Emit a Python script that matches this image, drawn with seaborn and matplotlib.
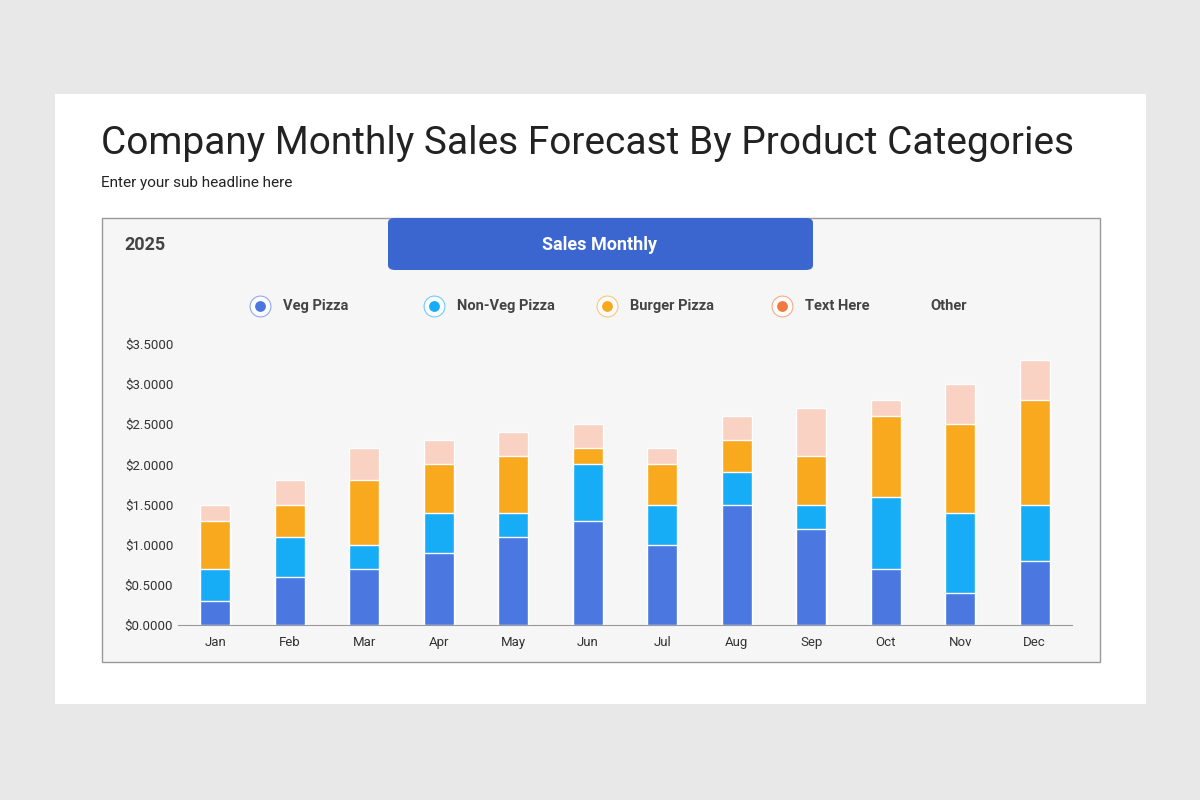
import numpy as np
import pandas as pd
import matplotlib
matplotlib.use("Agg")
import matplotlib.pyplot as plt
from matplotlib.patches import Rectangle, FancyBboxPatch
import seaborn as sns

months = ["Jan", "Feb", "Mar", "Apr", "May", "Jun", "Jul", "Aug", "Sep", "Oct", "Nov", "Dec"]
veg = [0.3, 0.6, 0.7, 0.9, 1.1, 1.3, 1.0, 1.5, 1.2, 0.7, 0.4, 0.8]
non_veg = [0.4, 0.5, 0.3, 0.5, 0.3, 0.7, 0.5, 0.4, 0.3, 0.9, 1.0, 0.7]
burger = [0.6, 0.4, 0.8, 0.6, 0.7, 0.2, 0.5, 0.4, 0.6, 1.0, 1.1, 1.3]
other = [0.2, 0.3, 0.4, 0.3, 0.3, 0.3, 0.2, 0.3, 0.6, 0.2, 0.5, 0.5]
yticks = [0, 0.5, 1.0, 1.5, 2.0, 2.5, 3.0, 3.5]

series = [("Veg Pizza", veg, "#4a77e0"), ("Non-Veg Pizza", non_veg, "#17acf6"),
          ("Burger Pizza", burger, "#f9a91e"), ("Other", other, "#f9d2c3")]

sns.set_style("white")
plt.rcParams["font.family"] = ["Roboto", "DejaVu Sans"]

fig = plt.figure(figsize=(12, 8), dpi=100)
fig.patch.set_facecolor("#e9e8e9")
fig.add_artist(Rectangle((55 / 1200, 1 - 704 / 800), 1091 / 1200, 610 / 800, zorder=-3,
                         transform=fig.transFigure, facecolor="white", edgecolor="none"))
fig.add_artist(Rectangle((102 / 1200, 1 - 662 / 800), 998 / 1200, 444 / 800, zorder=-2,
                         transform=fig.transFigure, facecolor="#f6f6f6", edgecolor="#999999", lw=1))
fig.add_artist(FancyBboxPatch((388 / 1200, 1 - 270 / 800), 425 / 1200, 52 / 800, zorder=-1,
                              boxstyle="round,pad=0,rounding_size=0.006",
                              transform=fig.transFigure, facecolor="#3b66cf", edgecolor="none"))
fig.text(101 / 1200, 1 - 143 / 800, "Company Monthly Sales Forecast By Product Categories",
         fontsize=28, color="#222222", va="center")
fig.text(101 / 1200, 1 - 183 / 800, "Enter your sub headline here", fontsize=11, color="#222222", va="center")
fig.text(124 / 1200, 1 - 245 / 800, "2025", fontsize=13, fontweight="bold", color="#444444", va="center")
fig.text(600 / 1200, 1 - 245 / 800, "Sales Monthly", fontsize=13, fontweight="bold", color="white",
         va="center", ha="center")

# legend
leg = [("Veg Pizza", "#4a77e0", 260), ("Non-Veg Pizza", "#17acf6", 434),
       ("Burger Pizza", "#f9a91e", 607), ("Text Here", "#f07b3f", 782), ("Other", None, 930)]
for name, col, x in leg:
    y = 1 - 306 / 800
    if col:
        fig.lines.append(plt.Line2D([x / 1200], [y], marker="o", markersize=15, markerfacecolor="white",
                                    markeredgecolor=col, markeredgewidth=0.8, alpha=0.6,
                                    transform=fig.transFigure))
        fig.lines.append(plt.Line2D([x / 1200], [y], marker="o", markersize=9, color=col,
                                    markeredgecolor="white", markeredgewidth=1.2,
                                    transform=fig.transFigure))
        tx = x + 23
    else:
        tx = x
    fig.text(tx / 1200, y, name, fontsize=10.5, fontweight="bold", color="#444444", va="center")

ax = fig.add_axes([178 / 1200, 1 - 625 / 800, 894 / 1200, 281 / 800])
ax.set_zorder(2)
ax.set_facecolor("none")
df = pd.DataFrame({"month": months})
cum = np.zeros(len(months))
cums = []
for name, vals, col in series:
    cum = cum + np.array(vals)
    cums.append((cum.copy(), col))
for c, col in reversed(cums):
    sns.barplot(x=df["month"], y=c, color=col, width=0.4, ax=ax, saturation=1)

ax.set_ylim(0, 3.5)
ax.set_yticks(yticks)
ax.set_yticklabels([f"${v:.4f}" for v in yticks])
ax.set_xlabel("")
ax.set_ylabel("")
ax.tick_params(length=0, labelsize=9.5, colors="#333333")
ax.tick_params(axis="x", pad=8)
for s in ["top", "right", "left"]:
    ax.spines[s].set_visible(False)
ax.spines["bottom"].set_color("#999999")

fig.savefig("out.png", dpi=100, facecolor=fig.get_facecolor())
